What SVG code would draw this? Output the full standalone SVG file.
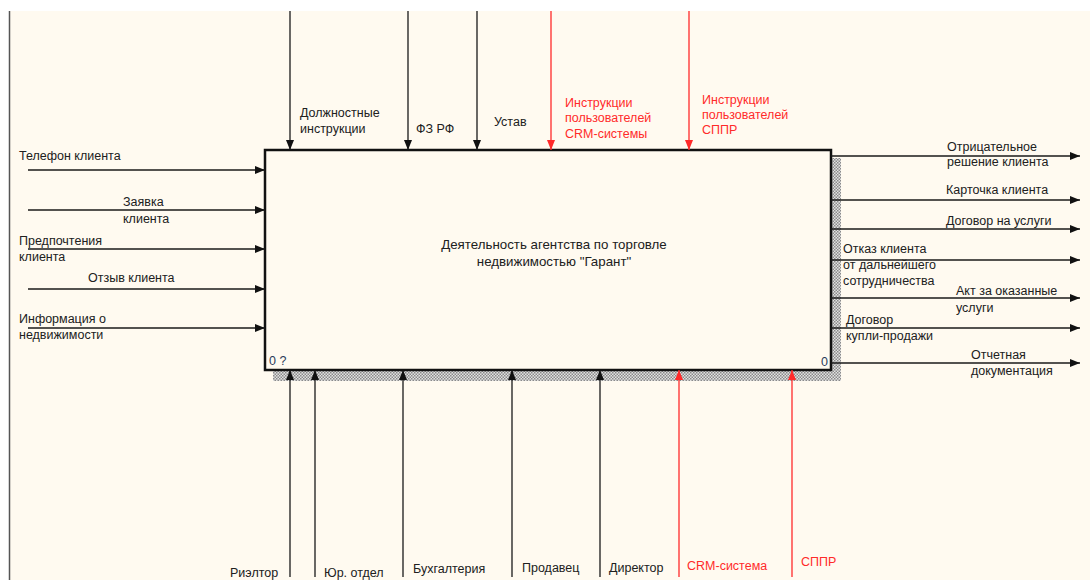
<svg xmlns="http://www.w3.org/2000/svg" width="1090" height="580" viewBox="0 0 1090 580">
<style>
text{font-family:"Liberation Sans",Arial,sans-serif;font-size:12.5px;fill:#202020}
.r{fill:#ff2a2a}
.m{font-size:13.3px}
.c{stroke:#1a1a1a;stroke-width:1.3;fill:none}
.cr{stroke:#ff2a2a;stroke-width:1.3;fill:none}
.n{fill:#2a3a5a}
</style>
<defs>
<pattern id="hatch" width="3" height="3" patternUnits="userSpaceOnUse">
<rect width="3" height="3" fill="#e2e2e2"/>
<rect width="1.5" height="1.5" fill="#8a8a8a"/>
<rect x="1.5" y="1.5" width="1.5" height="1.5" fill="#8a8a8a"/>
</pattern>
<marker id="ab" markerWidth="10" markerHeight="10" refX="10" refY="5" orient="auto" markerUnits="userSpaceOnUse">
<path d="M0,1 L10,5 L0,9 Z" fill="#111"/>
</marker>
<marker id="ar" markerWidth="10" markerHeight="10" refX="10" refY="5" orient="auto" markerUnits="userSpaceOnUse">
<path d="M0,1 L10,5 L0,9 Z" fill="#ff2a2a"/>
</marker>
</defs>
<rect x="0" y="0" width="1090" height="580" fill="#ffffff"/>
<rect x="9" y="11" width="1081" height="569" fill="#fffaf0"/>
<line x1="9.5" y1="11" x2="9.5" y2="580" stroke="#555" stroke-width="1.5"/>

<g id="node-main">
<rect x="831" y="158" width="10" height="223" fill="url(#hatch)"/>
<rect x="273" y="370" width="568" height="11" fill="url(#hatch)"/>
<rect x="265" y="150" width="566" height="220" fill="#fffaf0" stroke="#111" stroke-width="2.5"/>
<text x="554" y="249" text-anchor="middle" class="m">Деятельность агентства по торговле</text>
<text x="554" y="266" text-anchor="middle" class="m">недвижимостью "Гарант"</text>
<text x="269" y="365" class="n">0 ?</text>
<text x="821" y="366" class="n">0</text>
</g>

<g id="connectors">
<line class="c" x1="290" y1="11" x2="290" y2="150" marker-end="url(#ab)"/>
<line class="c" x1="408" y1="11" x2="408" y2="150" marker-end="url(#ab)"/>
<line class="c" x1="477" y1="11" x2="477" y2="150" marker-end="url(#ab)"/>
<line class="cr" x1="551" y1="11" x2="551" y2="150" marker-end="url(#ar)"/>
<line class="cr" x1="689" y1="11" x2="689" y2="150" marker-end="url(#ar)"/>
<line class="c" x1="28" y1="170" x2="265" y2="170" marker-end="url(#ab)"/>
<line class="c" x1="28" y1="210" x2="265" y2="210" marker-end="url(#ab)"/>
<line class="c" x1="28" y1="249" x2="265" y2="249" marker-end="url(#ab)"/>
<line class="c" x1="28" y1="289" x2="265" y2="289" marker-end="url(#ab)"/>
<line class="c" x1="28" y1="328" x2="265" y2="328" marker-end="url(#ab)"/>
<line class="c" x1="831" y1="156" x2="1080" y2="156" marker-end="url(#ab)"/>
<line class="c" x1="831" y1="200" x2="1080" y2="200" marker-end="url(#ab)"/>
<line class="c" x1="831" y1="229" x2="1080" y2="229" marker-end="url(#ab)"/>
<line class="c" x1="831" y1="260" x2="1080" y2="260" marker-end="url(#ab)"/>
<line class="c" x1="831" y1="298" x2="1080" y2="298" marker-end="url(#ab)"/>
<line class="c" x1="831" y1="328" x2="1080" y2="328" marker-end="url(#ab)"/>
<line class="c" x1="831" y1="363" x2="1080" y2="363" marker-end="url(#ab)"/>
<line class="c" x1="290" y1="577" x2="290" y2="370" marker-end="url(#ab)"/>
<line class="c" x1="315" y1="577" x2="315" y2="370" marker-end="url(#ab)"/>
<line class="c" x1="403" y1="577" x2="403" y2="370" marker-end="url(#ab)"/>
<line class="c" x1="512" y1="577" x2="512" y2="370" marker-end="url(#ab)"/>
<line class="c" x1="600" y1="577" x2="600" y2="370" marker-end="url(#ab)"/>
<line class="cr" x1="679" y1="577" x2="679" y2="370" marker-end="url(#ar)"/>
<line class="cr" x1="792" y1="577" x2="792" y2="370" marker-end="url(#ar)"/>
</g>

<g id="labels">
<text x="300" y="117">Должностные</text>
<text x="300" y="133">инструкции</text>
<text x="416" y="133">ФЗ РФ</text>
<text x="494" y="126">Устав</text>
<text x="565" y="107" class="r">Инструкции</text>
<text x="565" y="122" class="r">пользователей</text>
<text x="565" y="138" class="r">CRM-системы</text>
<text x="702" y="104" class="r">Инструкции</text>
<text x="702" y="119" class="r">пользователей</text>
<text x="702" y="134" class="r">СППР</text>

<text x="19" y="160">Телефон клиента</text>
<text x="123" y="206">Заявка</text>
<text x="123" y="223">клиента</text>
<text x="19" y="245">Предпочтения</text>
<text x="19" y="261">клиента</text>
<text x="88" y="282">Отзыв клиента</text>
<text x="19" y="323">Информация о</text>
<text x="19" y="339">недвижимости</text>

<text x="947" y="151">Отрицательное</text>
<text x="947" y="166">решение клиента</text>
<text x="946" y="194">Карточка клиента</text>
<text x="946" y="225">Договор на услуги</text>
<text x="843" y="253">Отказ клиента</text>
<text x="843" y="269">от дальнейшего</text>
<text x="843" y="285">сотрудничества</text>
<text x="956" y="295">Акт за оказанные</text>
<text x="956" y="312">услуги</text>
<text x="846" y="324">Договор</text>
<text x="846" y="340">купли-продажи</text>
<text x="971" y="359">Отчетная</text>
<text x="971" y="375">документация</text>

<text x="230" y="577">Риэлтор</text>
<text x="324" y="577">Юр. отдел</text>
<text x="413" y="573">Бухгалтерия</text>
<text x="522" y="572">Продавец</text>
<text x="609" y="572">Директор</text>
<text x="687" y="570" class="r">CRM-система</text>
<text x="801" y="566" class="r">СППР</text>
</g>
</svg>
